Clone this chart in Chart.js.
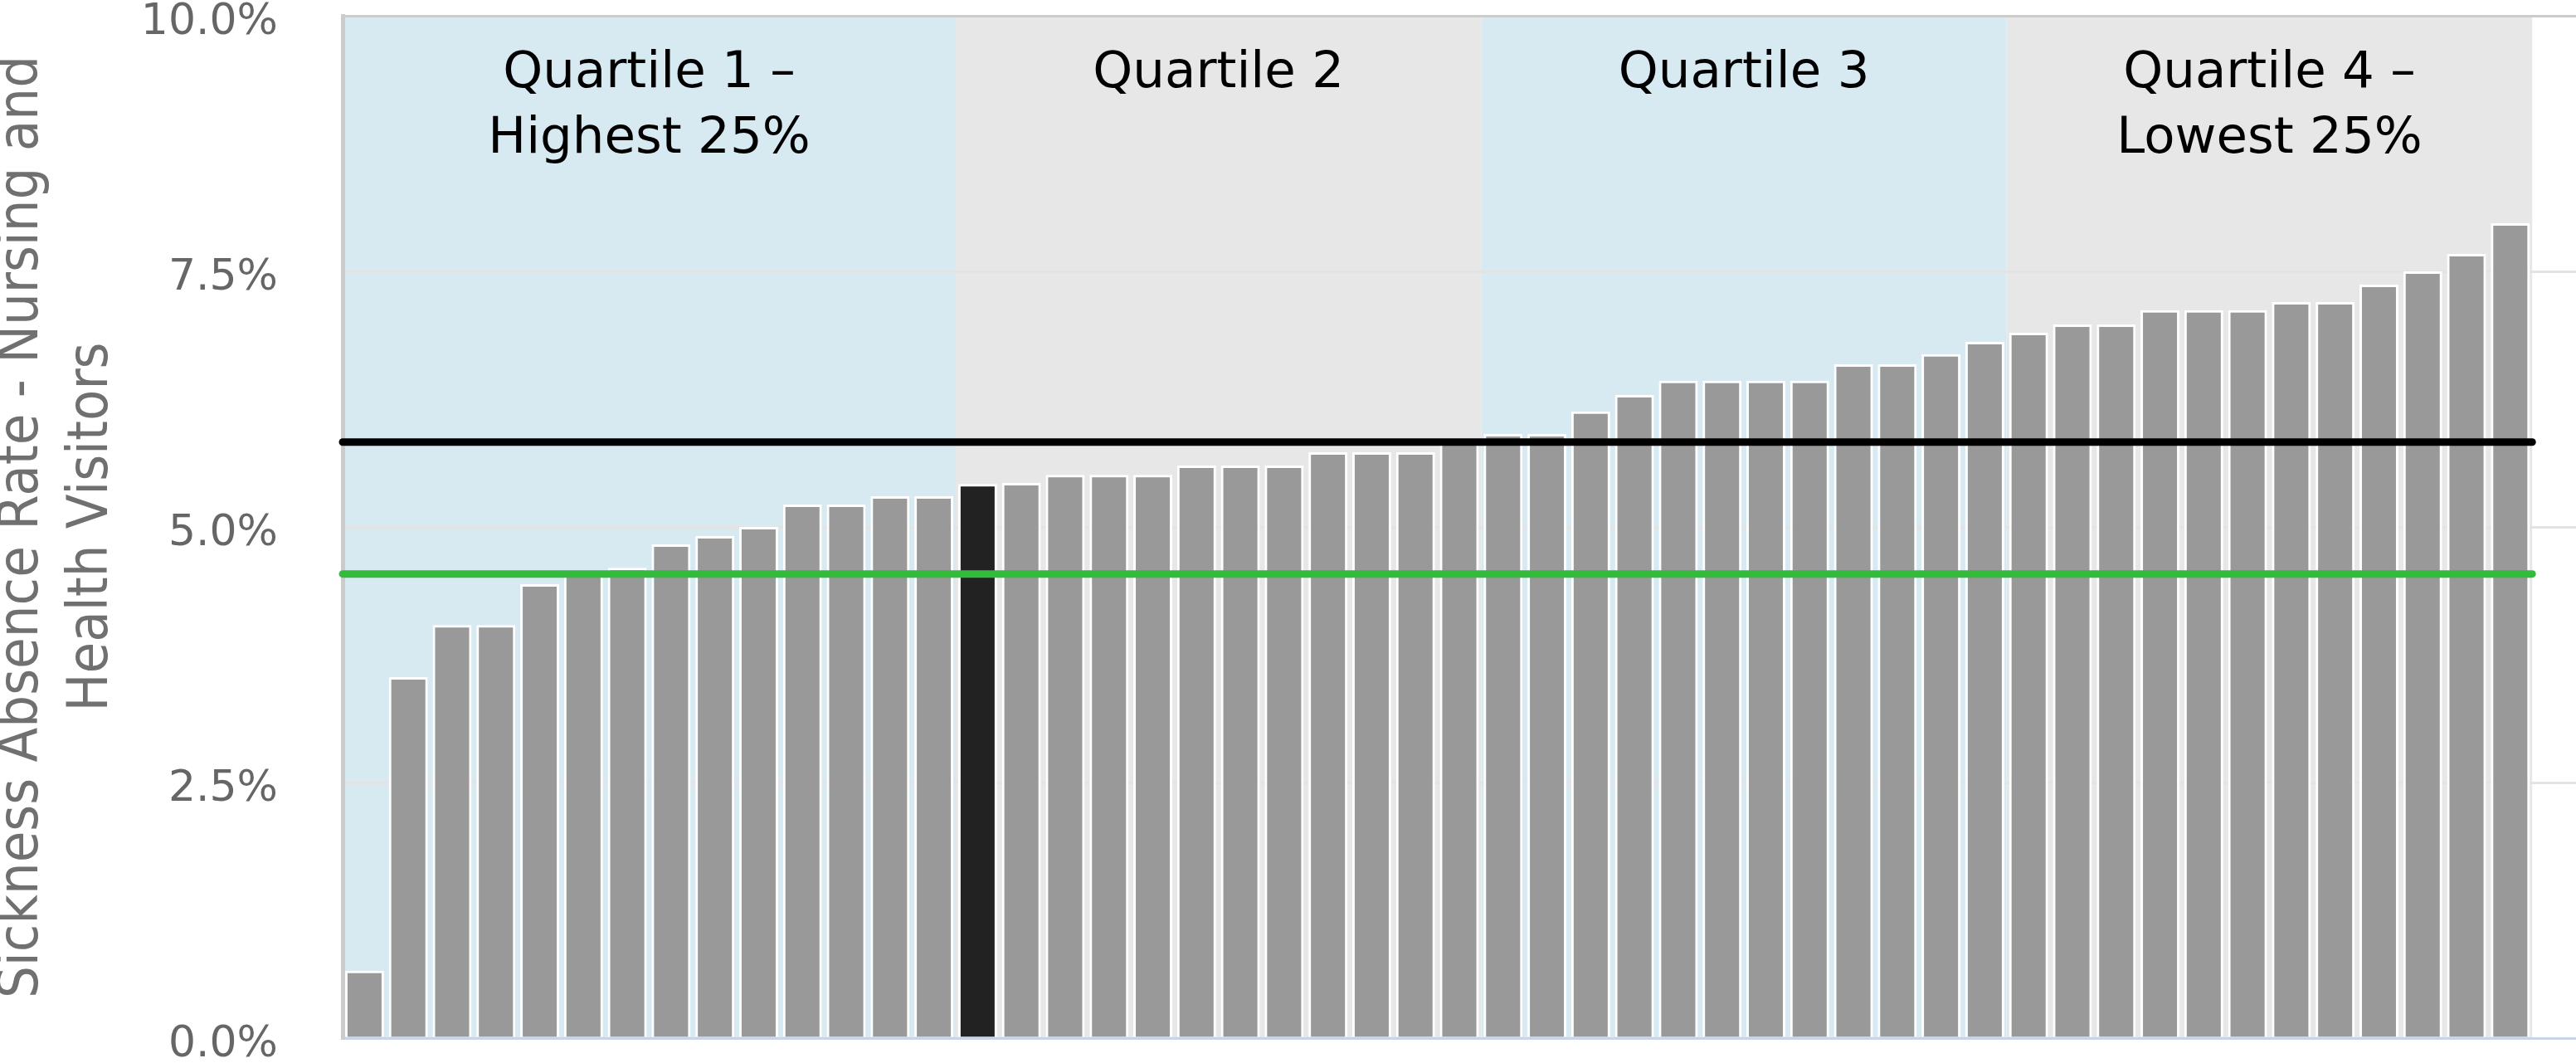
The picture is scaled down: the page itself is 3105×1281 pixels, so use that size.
<!DOCTYPE html>
<html>
<head>
<meta charset="utf-8">
<script src="https://cdn.jsdelivr.net/npm/chart.js@4.4.1/dist/chart.umd.min.js"></script>
<style>
  html, body { margin: 0; padding: 0; background: #fff; }
  #wrap { width: 3105px; height: 1281px; }
</style>
</head>
<body>
<div id="wrap"><canvas id="absenceChart"></canvas></div>
<script>
// sickness absence rate (%) per organisation, lowest first
const rates = [
  0.66, 3.53, 4.04, 4.04, 4.44, 4.55, 4.60, 4.83, 4.91, 5.00,
  5.22, 5.22, 5.30, 5.30, 5.42, 5.43, 5.51, 5.51, 5.51, 5.60,
  5.60, 5.60, 5.73, 5.73, 5.73, 5.85, 5.91, 5.91, 6.13, 6.29,
  6.43, 6.43, 6.43, 6.43, 6.59, 6.59, 6.69, 6.81, 6.90, 6.98,
  6.98, 7.12, 7.12, 7.12, 7.20, 7.20, 7.37, 7.50, 7.67, 7.97
];
const organisations = rates.map((_, i) => "Org " + (i + 1));
const highlightIndex = 14;   // the dark bar
const averageRate = 5.83;    // black line
const targetRate = 4.54;     // green line

const quartileNames = [
  ["Quartile 1 –", "Highest 25%"],
  ["Quartile 2"],
  ["Quartile 3"],
  ["Quartile 4 –", "Lowest 25%"]
];
const quartileFirst = [0, 14, 26, 38];
const quartileLast = [13, 25, 37, 49];
const bandColors = ["#d7eaf1", "#e7e7e7", "#d7eaf1", "#e7e7e7"];

const yTicks = [0, 2.5, 5, 7.5, 10];

// one empty slot at the end, the plot runs on past the last bar
const labels = [...organisations, ""];
const values = [...rates, null];

const quartilePlugin = {
  id: "quartiles",
  beforeDraw(chart) {
    const { ctx, chartArea, scales: { x } } = chart;
    const half = (x.getPixelForValue(1) - x.getPixelForValue(0)) / 2;
    ctx.save();
    quartileFirst.forEach((first, q) => {
      const x0 = x.getPixelForValue(first) - half;
      const x1 = x.getPixelForValue(quartileLast[q]) + half;
      ctx.fillStyle = bandColors[q];
      ctx.fillRect(x0, chartArea.top, x1 - x0, chartArea.bottom - chartArea.top);
    });
    ctx.restore();
  },
  afterDatasetsDraw(chart) {
    const { ctx, chartArea, scales: { x, y } } = chart;
    const half = (x.getPixelForValue(1) - x.getPixelForValue(0)) / 2;
    const left = x.getPixelForValue(0) - half;
    const right = x.getPixelForValue(rates.length - 1) + half;
    ctx.save();
    ctx.lineCap = "round";
    ctx.lineWidth = 9;
    [[averageRate, "#000000"], [targetRate, "#34bb3e"]].forEach(([v, c]) => {
      const py = y.getPixelForValue(v);
      ctx.strokeStyle = c;
      ctx.beginPath();
      ctx.moveTo(left, py);
      ctx.lineTo(right, py);
      ctx.stroke();
    });

    ctx.fillStyle = "#000";
    ctx.font = "61px 'DejaVu Sans'";
    ctx.textAlign = "center";
    ctx.textBaseline = "alphabetic";
    quartileFirst.forEach((first, q) => {
      const cx = (x.getPixelForValue(first) + x.getPixelForValue(quartileLast[q])) / 2;
      quartileNames[q].forEach((line, i) => {
        ctx.fillText(line, cx, chartArea.top + 86 + i * 79);
      });
    });
    ctx.restore();
  }
};

const ctx = document.getElementById("absenceChart").getContext("2d");

new Chart(ctx, {
  type: "bar",
  data: {
    labels: labels,
    datasets: [
      {
        label: "Sickness absence rate",
        data: values,
        backgroundColor: rates.map((_, i) => i === highlightIndex ? "#222222" : "#999999"),
        borderColor: "#ffffff",
        borderWidth: 3,
        categoryPercentage: 1,
        barPercentage: 0.89,
      },
    ],
  },
  options: {
    responsive: true,
    maintainAspectRatio: false,
    animation: false,
    layout: { padding: { top: 19, right: 0, bottom: 30, left: 0 } },
    scales: {
      x: {
        grid: { display: false },
        ticks: { display: false },
        border: { display: true, color: "#c9d4e9", width: 3 },
        afterFit(scale) { scale.height = 0; },
      },
      y: {
        min: 0,
        max: 10,
        afterBuildTicks(scale) { scale.ticks = yTicks.map(v => ({ value: v })); },
        afterFit(scale) {
          scale.width = 413;
          scale.paddingTop = 15;
          scale.paddingBottom = 15;
        },
        grid: {
          drawTicks: false,
          color: (c) => c.tick && c.tick.value === 10 ? "#cccccc" : "#e3e3e3",
          lineWidth: 3,
        },
        border: { color: "#cbcbcb", width: 5 },
        ticks: {
          padding: 78,
          labelOffset: 8,
          color: "#666666",
          font: { family: "'DejaVu Sans'", size: 52, lineHeight: 0.6 },
          callback: (v) => Number(v).toFixed(1) + "%",
        },
        title: {
          display: true,
          text: ["Sickness Absence Rate - Nursing and", "Health Visitors"],
          color: "#707070",
          padding: { top: -15, bottom: 0 },
          font: { family: "'DejaVu Sans Condensed', sans-serif", size: 68, lineHeight: 84 / 68 },
        },
      },
    },
    plugins: {
      legend: { display: false },
      tooltip: { enabled: false },
    },
  },
  plugins: [quartilePlugin],
});
</script>
</body>
</html>
